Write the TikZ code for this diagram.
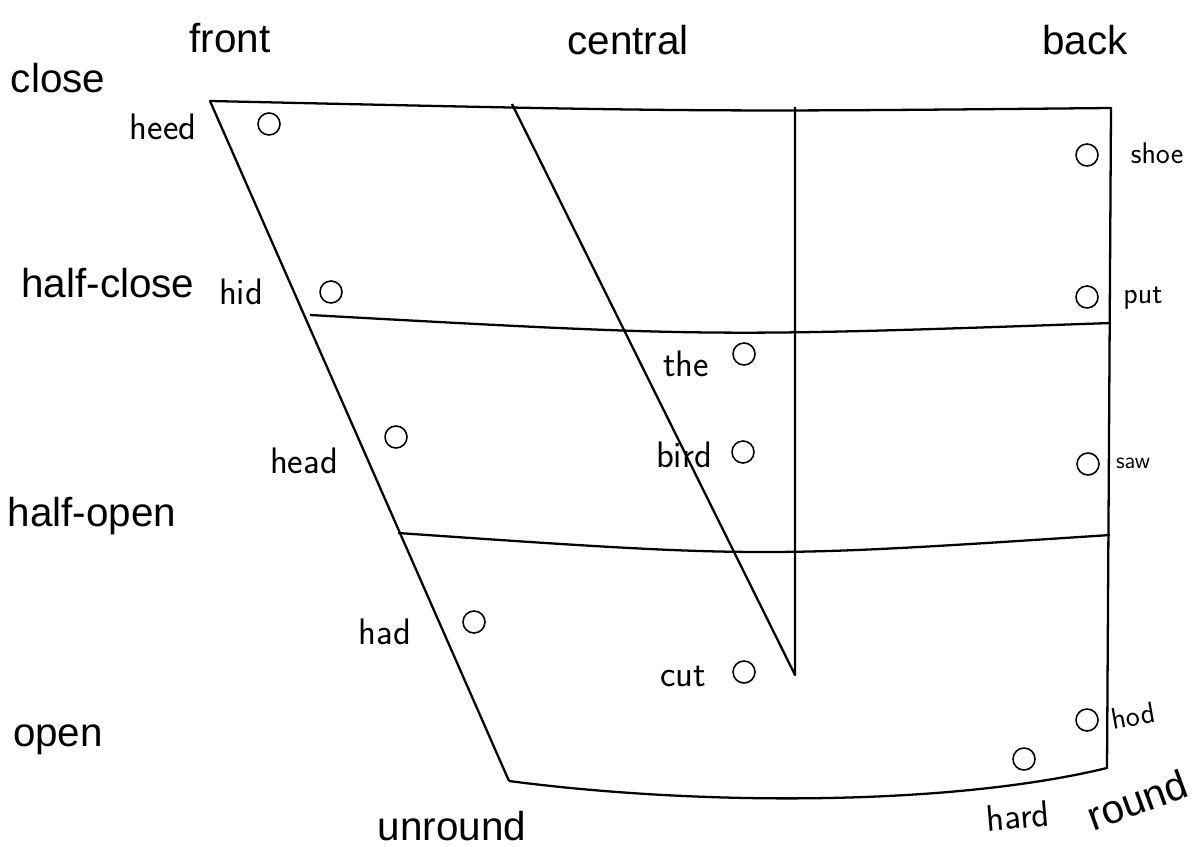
\documentclass[tikz,border=0pt]{standalone}
\usepackage{fontspec}
\setmainfont{Liberation Sans}
\usetikzlibrary{positioning}

\begin{document}
\begin{tikzpicture}[x=0.02cm,y=-0.02cm,
  ln/.style={line width=1.3pt,line join=round},
  v/.style={circle,draw,line width=0.9pt,minimum size=0.44cm,inner sep=0pt},
  w/.style={inner sep=0pt,font=\sffamily\fontsize{21}{21}\selectfont},
  ws/.style={inner sep=0pt,font=\sffamily\fontsize{17}{17}\selectfont},
  lab/.style={inner sep=0pt,font=\fontsize{23}{23}\selectfont}]
  \useasboundingbox (0,0) rectangle (1192,847);
  % corners of the chart
  \coordinate (tl) at (210,101);
  \coordinate (tr) at (1111,108);
  \coordinate (br) at (1107,768);
  \coordinate (bl) at (509,781);
  \coordinate (ct) at (512,104);
  \coordinate (cb) at (795,675);
  \coordinate (vt) at (795,107);
  \coordinate (hcl) at (310,315);
  \coordinate (hcr) at (1111,323);
  \coordinate (hol) at (398,533);
  \coordinate (hor) at (1110,535);
  % outline and grid
  \draw[ln] (bl)--(tl) .. controls (700,112) .. (tr)--(br)
    .. controls (950,806) and (700,806) .. (bl);
  \draw[ln] (ct)--(cb)--(vt);
  \draw[ln] (hcl) .. controls (710,337) .. (hcr);
  \draw[ln] (hol) .. controls (760,558) .. (hor);
  % vowels
  \foreach \n/\cx/\cy/\tx/\ty in {heed/269/124/163/127,hid/331/292/241/292,
    the/744/354/686/364,head/396/437/304/461,bird/743/452/684/455,
    had/474/622/385/632,cut/744/672/683/676}{
    \node[v] (\n) at (\cx,\cy) {};
    \node[w] (\n-t) at (\tx,\ty) {\n};
  }
  \node[v] (shoe) at (1087,155) {};
  \node[ws] (shoe-t) at (1157,153) {shoe};
  \node[v] (put) at (1087,297) {};
  \node[ws] (put-t) at (1143,298) {put};
  \node[v] (saw) at (1088,464) {};
  \node[ws,font=\sffamily\fontsize{13}{13}\selectfont] (saw-t) at (1133,463) {saw};
  \node[v] (hod) at (1087,720) {};
  \node[ws,rotate=10] (hod-t) at (1133,716) {hod};
  \node[v] (hard) at (1024,759) {};
  \node[w,rotate=5] (hard-t) at (1018,816) {hard};
  % labels
  \node[lab] (front) at (230,38) {front};
  \node[lab] (central) at (628,40) {central};
  \node[lab] (back) at (1085,40) {back};
  \node[lab] (close) at (58,78) {close};
  \node[lab] (hclose) at (108,283) {half-close};
  \node[lab] (hopen) at (92,516) {half-open};
  \node[lab] (open) at (58,740) {open};
  \node[lab] (unround) at (452,826) {unround};
  \node[lab,rotate=20] (round) at (1137,800) {round};
\end{tikzpicture}
\end{document}
